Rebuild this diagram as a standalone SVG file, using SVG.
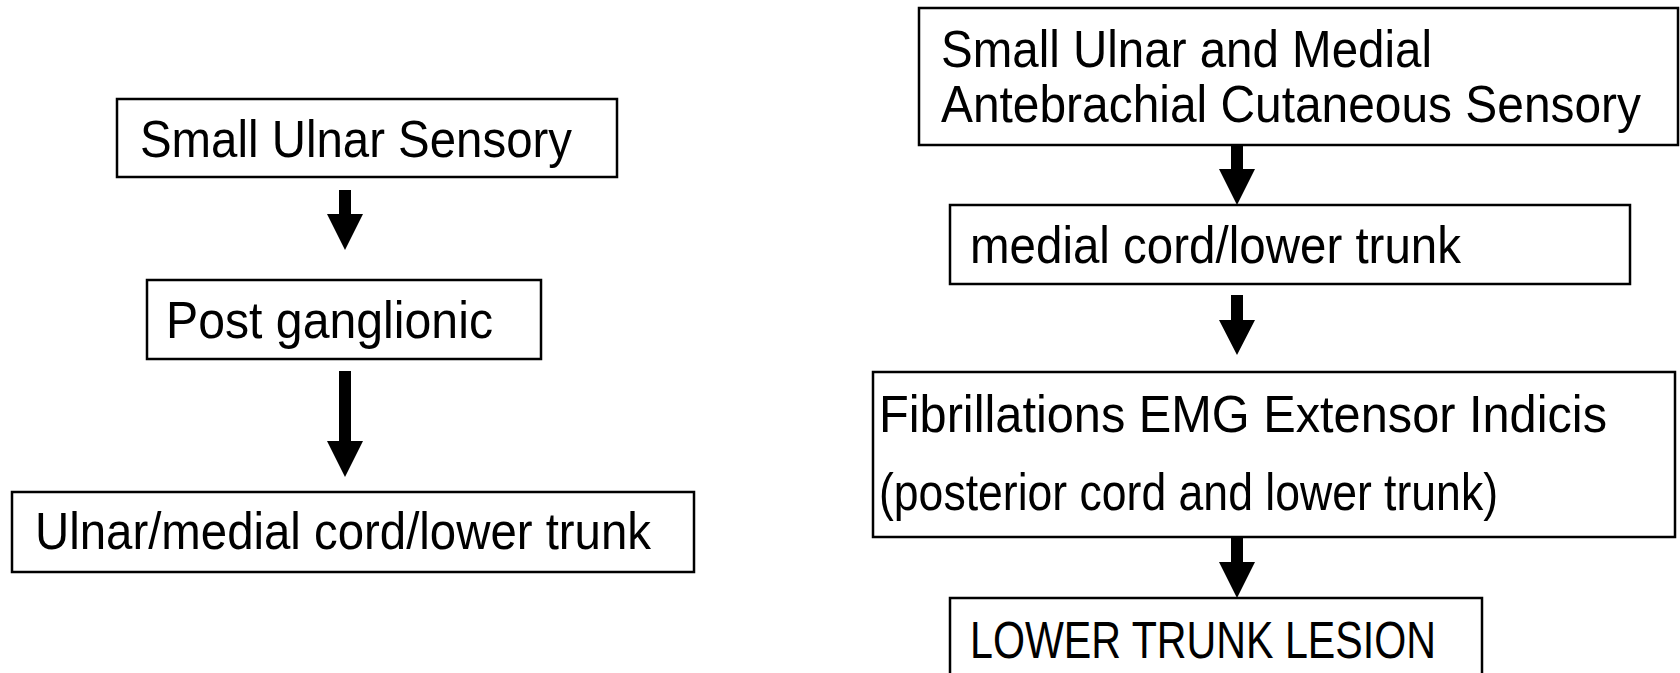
<svg xmlns="http://www.w3.org/2000/svg" width="1680" height="673" viewBox="0 0 1680 673">
<style>
.box{fill:#fff;stroke:#000;stroke-width:2.5}
.t{font-family:"Liberation Sans",Arial,sans-serif;font-size:52px;fill:#000}
.arr{fill:#000;stroke:none}
</style>
<rect width="1680" height="673" fill="#fff"/>
<g id="n1"><rect class="box" x="117" y="99" width="500" height="78"/><text class="t" x="140" y="157" textLength="432" lengthAdjust="spacingAndGlyphs">Small Ulnar Sensory</text></g>
<g id="n2"><rect class="box" x="147" y="280" width="394" height="79"/><text class="t" x="166" y="338" textLength="327" lengthAdjust="spacingAndGlyphs">Post ganglionic</text></g>
<g id="n3"><rect class="box" x="12" y="492" width="682" height="80"/><text class="t" x="35" y="549" textLength="616" lengthAdjust="spacingAndGlyphs">Ulnar/medial cord/lower trunk</text></g>
<g id="r1"><rect class="box" x="919" y="8" width="759" height="137"/><text class="t" x="941" y="67" textLength="491" lengthAdjust="spacingAndGlyphs">Small Ulnar and Medial</text><text class="t" x="941" y="122" textLength="700" lengthAdjust="spacingAndGlyphs">Antebrachial Cutaneous Sensory</text></g>
<g id="r2"><rect class="box" x="950" y="205" width="680" height="79"/><text class="t" x="970" y="263" textLength="491" lengthAdjust="spacingAndGlyphs">medial cord/lower trunk</text></g>
<g id="r3"><rect class="box" x="873" y="372" width="802" height="165"/><text class="t" x="879" y="432" textLength="728" lengthAdjust="spacingAndGlyphs">Fibrillations EMG Extensor Indicis</text><text class="t" x="879" y="510" textLength="619" lengthAdjust="spacingAndGlyphs">(posterior cord and lower trunk)</text></g>
<g id="r4"><rect class="box" x="950" y="598" width="532" height="90"/><text class="t" x="970" y="658" textLength="466" lengthAdjust="spacingAndGlyphs">LOWER TRUNK LESION</text></g>
<g id="connectors">
<path class="arr" d="M339,190 H351 V214 H363 L345,250 L327,214 H339 Z"/>
<path class="arr" d="M339,371 H351 V441 H363 L345,477 L327,441 H339 Z"/>
<path class="arr" d="M1231,145 H1243 V169 H1255 L1237,205 L1219,169 H1231 Z"/>
<path class="arr" d="M1231,295 H1243 V320 H1255 L1237,355 L1219,320 H1231 Z"/>
<path class="arr" d="M1231,537 H1243 V562 H1255 L1237,598 L1219,562 H1231 Z"/>
</g>
</svg>
